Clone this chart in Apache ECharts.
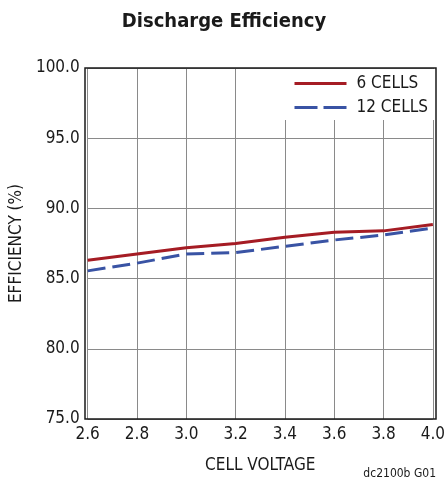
<!DOCTYPE html>
<html>
<head>
<meta charset="utf-8">
<script src="https://cdn.jsdelivr.net/npm/echarts@6/dist/echarts.min.js"></script>
<style>
  html, body { margin: 0; padding: 0; background: #fff; }
  #chart { width: 448px; height: 483px; }
</style>
</head>
<body>
<div id="chart"></div>
<script>
// Cell voltage (V) on the x axis
const cellVoltage = [2.6, 2.8, 3.0, 3.2, 3.4, 3.6, 3.8, 4.0];
// Discharge efficiency (%) per configuration
const eff6Cells  = [86.3, 86.75, 87.2, 87.5, 87.95, 88.3, 88.4, 88.85];
const eff12Cells = [85.55, 86.1, 86.75, 86.85, 87.3, 87.75, 88.1, 88.6];
const seriesNames = ['6 CELLS', '12 CELLS'];

const FONT = '"Liberation Sans Narrow", "DejaVu Sans Condensed", "Liberation Sans", sans-serif';
const INK = '#1a1a1a';
const RED = '#a51c24';
const BLUE = '#3953a4';

const chart = echarts.init(document.getElementById('chart'), null, { renderer: 'canvas' });

const toPairs = ys => cellVoltage.map((x, i) => [x, ys[i]]);

chart.setOption({
  animation: false,
  backgroundColor: '#fff',
  title: {
    text: 'Discharge Efficiency',
    left: 'center',
    top: 7,
    textStyle: { fontFamily: FONT, fontWeight: 'bold', fontSize: 20, color: INK }
  },
  grid: { left: 85, right: 12, top: 68, bottom: 64 },
  legend: {
    orient: 'vertical',
    left: 283,
    top: 69,
    backgroundColor: '#fff',
    padding: [6, 14, 4, 10],
    itemGap: 7,
    itemWidth: 52,
    itemHeight: 14,
    itemStyle: { opacity: 0 },
    textStyle: { fontFamily: FONT, fontSize: 17, color: INK, padding: [0, 0, 0, 5] },
    data: [
      { name: seriesNames[0], lineStyle: { color: RED, width: 3, type: 'solid' } },
      { name: seriesNames[1], lineStyle: { color: BLUE, width: 3, type: [23, 6] } }
    ],
    z: 4
  },
  xAxis: {
    type: 'value',
    min: 2.6, max: 4.0, interval: 0.2,
    name: 'CELL VOLTAGE',
    nameLocation: 'middle',
    nameGap: 38,
    nameTextStyle: { fontFamily: FONT, fontSize: 17, color: INK },
    axisLine: { show: false },
    axisTick: { show: false },
    axisLabel: {
      fontFamily: FONT, fontSize: 17, color: INK, margin: 7,
      formatter: v => v.toFixed(1)
    },
    splitLine: { show: true, lineStyle: { color: '#8a8a8a', width: 1 } }
  },
  yAxis: {
    type: 'value',
    min: 75, max: 100, interval: 5,
    name: 'EFFICIENCY (%)',
    nameLocation: 'middle',
    nameGap: 62,
    nameRotate: 90,
    nameTextStyle: { fontFamily: FONT, fontSize: 17, color: INK },
    axisLine: { show: false },
    axisTick: { show: false },
    axisLabel: {
      fontFamily: FONT, fontSize: 17, color: INK, margin: 8,
      formatter: v => v.toFixed(1)
    },
    splitLine: { show: true, lineStyle: { color: '#8a8a8a', width: 1 } }
  },
  graphic: [
    {
      type: 'rect',
      shape: { x: 85, y: 68, width: 351, height: 351 },
      style: { fill: 'none', stroke: INK, lineWidth: 1.5 },
      silent: true, z: 10
    },
    {
      type: 'text',
      right: 12,
      top: 468,
      style: { text: 'dc2100b G01', font: '12px ' + FONT, fill: INK }
    }
  ],
  series: [
    {
      name: seriesNames[0],
      type: 'line',
      data: toPairs(eff6Cells),
      showSymbol: false,
      symbol: 'none',
      lineStyle: { color: RED, width: 3 },
      itemStyle: { color: RED },
      z: 3
    },
    {
      name: seriesNames[1],
      type: 'line',
      data: toPairs(eff12Cells),
      showSymbol: false,
      symbol: 'none',
      lineStyle: { color: BLUE, width: 3, type: [18, 7] },
      itemStyle: { color: BLUE },
      z: 3
    }
  ]
});
</script>
</body>
</html>
